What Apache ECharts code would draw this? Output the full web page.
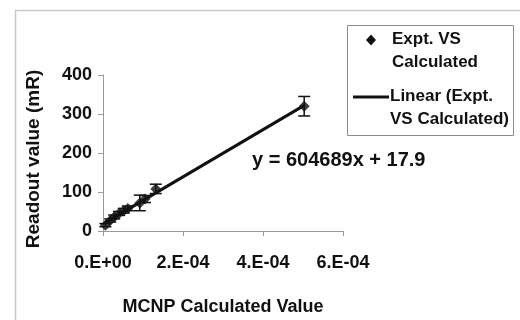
<!DOCTYPE html>
<html>
<head>
<meta charset="utf-8">
<script src="https://cdn.jsdelivr.net/npm/echarts@6/dist/echarts.min.js"></script>
<style>
html, body { margin: 0; padding: 0; background: #fff; }
#chart { width: 520px; height: 320px; }
</style>
</head>
<body>
<div id="chart"></div>
<script>
(function () {

    // MCNP calculated value vs instrument readout (mR), with error bars
    var calcValues    = [0.6e-5, 1.8e-5, 2.8e-5, 4.0e-5, 5.2e-5, 6.2e-5, 9.2e-5, 1.05e-4, 1.32e-4, 5.03e-4];
    var readouts      = [15, 27, 36, 45, 52, 58, 72, 82, 108, 320];
    var readoutErrors = [4, 4, 5, 5, 6, 6, 20, 9, 12, 25];

    // linear trendline shown on the chart
    var fitSlope = 604689;
    var fitIntercept = 17.9;

    var xMax = 6e-4, xStep = 2e-4;
    var yMax = 400, yStep = 100;

    var FONT = '"Liberation Sans", Arial, sans-serif';
    var INK = '#111';

    var points = [];
    var bars = [];
    for (var i = 0; i < calcValues.length; i++) {
        points.push([calcValues[i], readouts[i]]);
        bars.push([calcValues[i], readouts[i] - readoutErrors[i], readouts[i] + readoutErrors[i]]);
    }

    var xFirst = Math.min.apply(null, calcValues);
    var xLast = Math.max.apply(null, calcValues);
    var trend = [
        [xFirst, fitSlope * xFirst + fitIntercept],
        [xLast, fitSlope * xLast + fitIntercept]
    ];

    // Excel style "2.E-04"
    function sciLabel(v) {
        if (v === 0) return '0.E+00';
        var e = Math.floor(Math.log10(v) + 1e-9);
        var m = Math.round(v / Math.pow(10, e));
        var sign = e < 0 ? '-' : '+';
        var ae = Math.abs(e);
        return m + '.E' + sign + (ae < 10 ? '0' + ae : ae);
    }

    function renderErrorBar(params, api) {
        var x = api.value(0);
        var lo = api.coord([x, api.value(1)]);
        var hi = api.coord([x, api.value(2)]);
        var half = 6;
        var style = { stroke: INK, lineWidth: 1.5 };
        return {
            type: 'group',
            children: [
                { type: 'line', shape: { x1: hi[0], y1: hi[1], x2: lo[0], y2: lo[1] }, style: style },
                { type: 'line', shape: { x1: hi[0] - half, y1: hi[1], x2: hi[0] + half, y2: hi[1] }, style: style },
                { type: 'line', shape: { x1: lo[0] - half, y1: lo[1], x2: lo[0] + half, y2: lo[1] }, style: style }
            ]
        };
    }

    var axisGrey = '#9a9a9a';

    var myChart = echarts.init(document.getElementById('chart'));

    var option = {
        animation: false,
        backgroundColor: '#fff',
        grid: { left: 103, top: 75, width: 240, height: 156 },
        xAxis: {
            type: 'value',
            min: 0,
            max: xMax,
            interval: xStep,
            name: 'MCNP Calculated Value',
            nameLocation: 'middle',
            nameGap: 67,
            nameTextStyle: { color: INK, fontFamily: FONT, fontWeight: 'bold', fontSize: 18 },
            axisLine: { show: true, lineStyle: { color: axisGrey, width: 1 } },
            axisTick: { show: true, length: 5, lineStyle: { color: axisGrey } },
            splitLine: { show: false },
            axisLabel: {
                margin: 23,
                color: INK,
                fontFamily: FONT,
                fontWeight: 'bold',
                fontSize: 18,
                formatter: sciLabel
            }
        },
        yAxis: {
            type: 'value',
            min: 0,
            max: yMax,
            interval: yStep,
            name: 'Readout value (mR)',
            nameLocation: 'middle',
            nameGap: 60,
            nameTextStyle: {
                color: INK, fontFamily: FONT, fontWeight: 'bold', fontSize: 19,
                padding: [0, 12, 0, 0]
            },
            axisLine: { show: true, lineStyle: { color: axisGrey, width: 1 } },
            axisTick: { show: true, length: 5, lineStyle: { color: axisGrey } },
            splitLine: { show: false },
            axisLabel: {
                margin: 11,
                color: INK,
                fontFamily: FONT,
                fontWeight: 'bold',
                fontSize: 18
            }
        },
        series: [
            {
                name: 'error',
                type: 'custom',
                renderItem: renderErrorBar,
                data: bars,
                z: 2
            },
            {
                name: 'Linear (Expt. VS Calculated)',
                type: 'line',
                data: trend,
                symbol: 'none',
                lineStyle: { color: INK, width: 3 },
                z: 3
            },
            {
                name: 'Expt. VS Calculated',
                type: 'scatter',
                data: points,
                symbol: 'diamond',
                symbolSize: 11,
                itemStyle: { color: INK },
                z: 4
            }
        ],
        graphic: [
            // outer frame
            {
                type: 'rect', left: 13, top: 8, silent: true,
                shape: { width: 560, height: 360 },
                style: { fill: null, stroke: '#c8c8c8', lineWidth: 1.5 }
            },
            // legend box
            {
                type: 'rect', left: 347, top: 25, silent: true,
                shape: { width: 166, height: 110 },
                style: { fill: '#fff', stroke: '#8c8c8c', lineWidth: 1 }
            },
            {
                type: 'polygon', silent: true,
                shape: { points: [[371, 34.5], [376, 40], [371, 45.5], [366, 40]] },
                style: { fill: INK }
            },
            {
                type: 'text', left: 392, top: 28, silent: true,
                style: {
                    text: 'Expt. VS\nCalculated', fill: INK, lineHeight: 23,
                    font: 'bold 17px ' + FONT
                }
            },
            {
                type: 'line', silent: true,
                shape: { x1: 353, y1: 97, x2: 389, y2: 97 },
                style: { stroke: INK, lineWidth: 3 }
            },
            {
                type: 'text', left: 390, top: 85, silent: true,
                style: {
                    text: 'Linear (Expt.\nVS Calculated)', fill: INK, lineHeight: 23,
                    font: 'bold 17px ' + FONT
                }
            },
            // trendline equation
            {
                type: 'text', left: 252, top: 150, silent: true,
                style: {
                    text: 'y = 604689x + 17.9', fill: INK,
                    font: 'bold 20px ' + FONT
                }
            }
        ]
    };

    myChart.setOption(option);

}());
</script>
</body>
</html>
